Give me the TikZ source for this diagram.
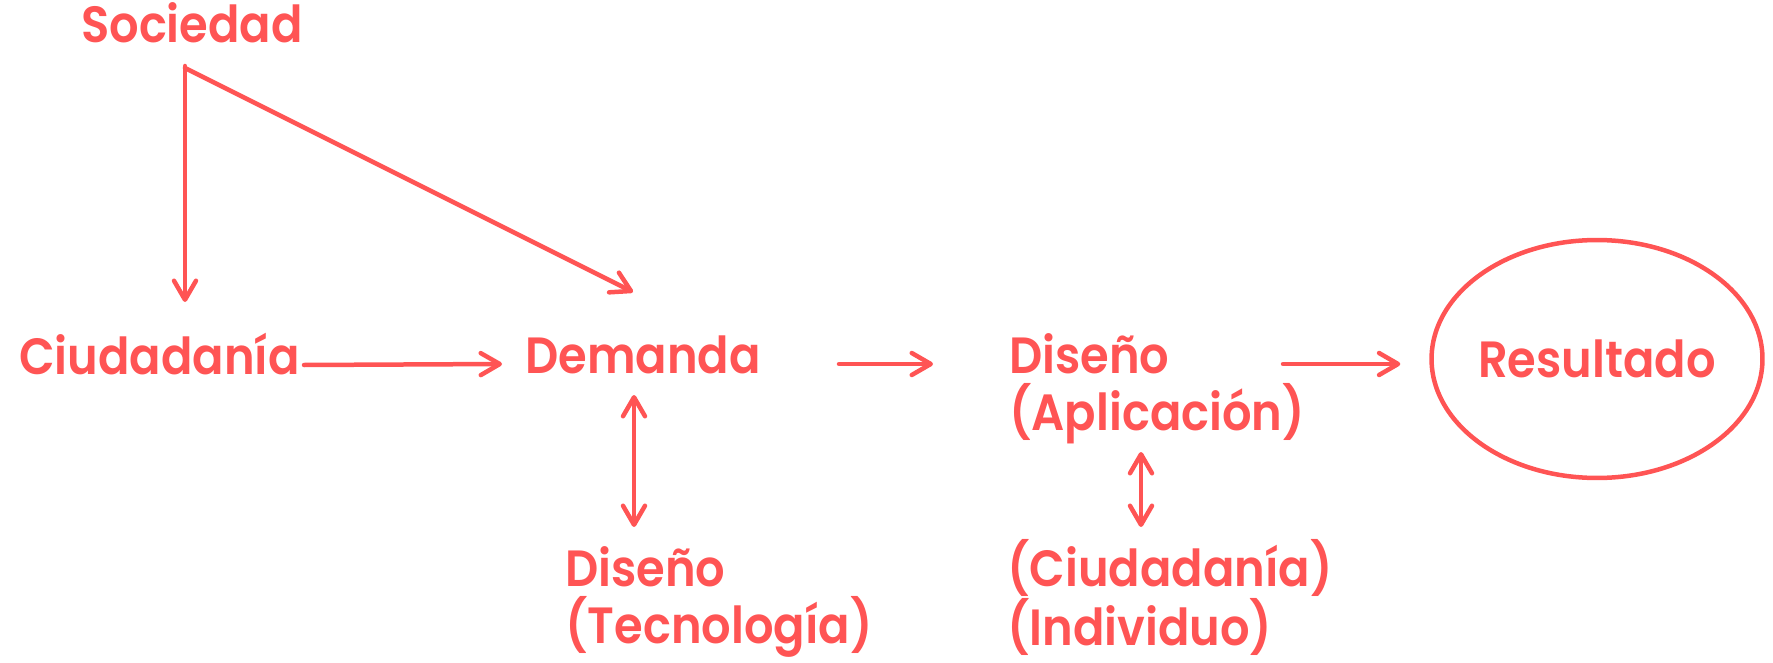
\documentclass[tikz,border=0pt]{standalone}
\usepackage{fontspec}
\newfontfamily\rotulo{Poppins SemiBold}[FakeStretch=0.91]
\usepackage{tikz}
\usetikzlibrary{calc,arrows.meta,shapes.geometric,positioning}
\definecolor{coral}{RGB}{255,84,84}
\tikzset{etiqueta/.style={text=coral,font=\rotulo\fontsize{29}{32.4}\selectfont,inner sep=0pt,anchor=base west,align=left},
flecha/.style={draw=coral,line cap=round,line join=round,-{Straight Barb[length=0.38cm,width=0.44cm,round]}},
doble/.style={flecha,{Straight Barb[length=0.38cm,width=0.44cm,round]}-{Straight Barb[length=0.38cm,width=0.44cm,round]}}}

\begin{document}
\begin{tikzpicture}[x=0.02cm,y=-0.02cm,line width=0.09cm]

\useasboundingbox (0,0) rectangle (1773,662);

% Labels (base = last line)
\node[etiqueta] (soc) at (79,43) {Sociedad};
\node[etiqueta] (ciud) at (17,374) {Ciudadanía};
\node[etiqueta] (dem) at (523,373) {Demanda};
\node[etiqueta] (apl) at (1007,430) {Diseño\\(Aplicación)};
\node[etiqueta] (tec) at (563,643) {Diseño\\(Tecnología)};
\node[etiqueta] (ind) at (1005,645) {(Ciudadanía)\\(Individuo)};

% Result
\node[draw=coral,ellipse,minimum width=6.62cm,minimum height=4.76cm,inner xsep=-0.1cm,inner ysep=0pt,text=coral,font=\rotulo\fontsize{29}{32.4}\selectfont] (res) at (1597,359) {Resultado};

% From Sociedad
\coordinate (raiz) at ($(soc.base west)+(106,23)$);
\draw[flecha] (raiz) -- ($(raiz |- ciud.base)+(0,-72)$);
\draw[flecha] ($(raiz)+(0,2)$) -- ($(dem.base west)+(110,-81)$);

% Main row
\draw[flecha] ($(ciud.base west)+(287,-9)$) -- ($(dem.base west)+(-21,-9)$);
\draw[flecha] ($(dem.base west)+(316,-9)$) -- ($(apl.base west)+(-74,-66)$);
\draw[flecha] ($(apl.base west)+(276,-66)$) -- ($(res.west)+(-29,5)$);

% Two way links
\draw[doble] ($(dem.base west)+(111,22)$) -- ($(tec.base west)+(71,-116)$);
\draw[doble] ($(apl.base west)+(134,22)$) -- ($(ind.base west)+(136,-118)$);

\end{tikzpicture}
\end{document}
